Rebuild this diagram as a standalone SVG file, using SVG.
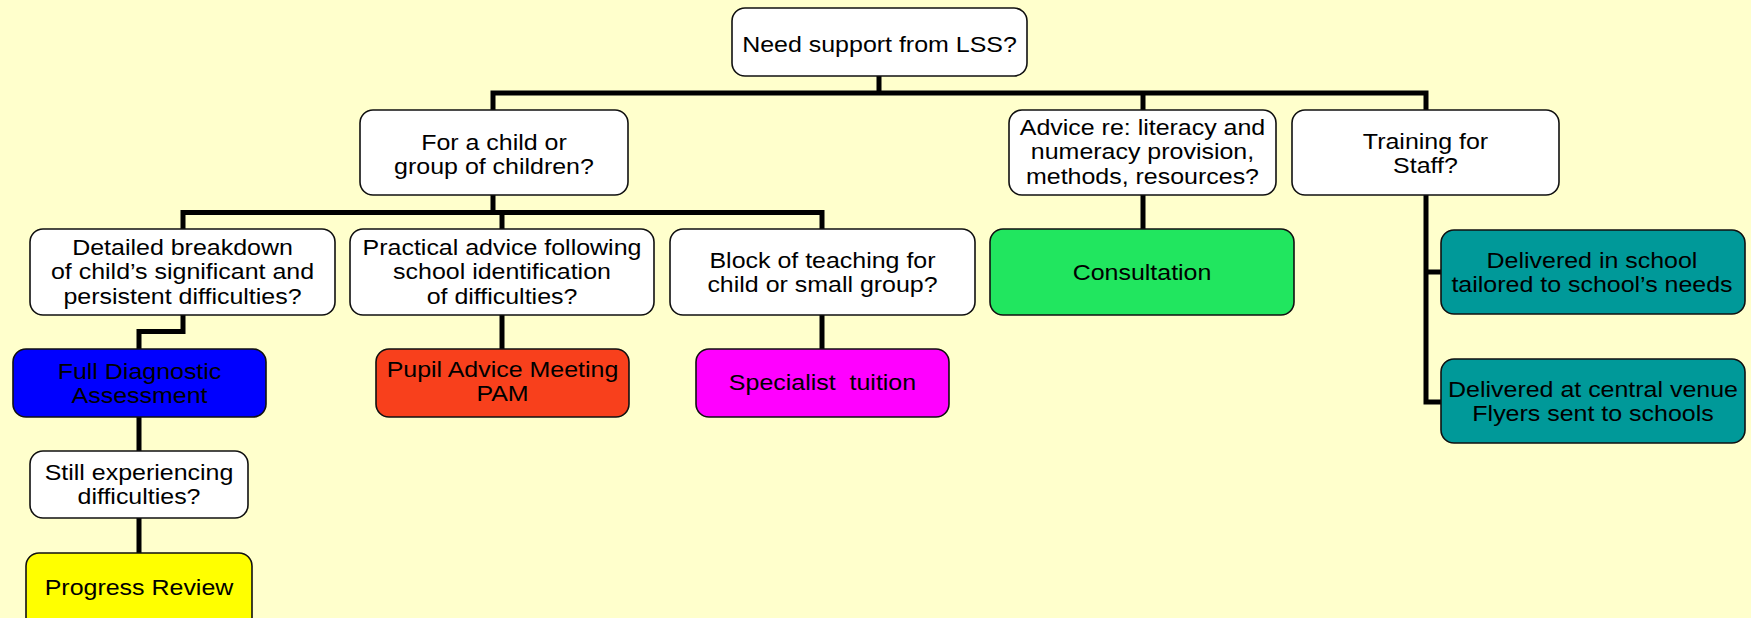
<svg xmlns="http://www.w3.org/2000/svg" width="1751" height="618" viewBox="0 0 1751 618">
<style>
.box{stroke:#111;stroke-width:1.6}
.q{fill:#fff}
.t{font-family:"Liberation Sans",Arial,sans-serif;font-size:22px;fill:#000;text-anchor:middle}
.c{fill:none;stroke:#000;stroke-width:5;stroke-linejoin:miter;stroke-linecap:square}
</style>
<rect x="0" y="0" width="1751" height="618" fill="#FFFFCC"/>
<g id="connectors">
<path class="c" d="M879 77V93M493 93H1426M493 93V108M1143 93V108M1426 93V108"/>
<path class="c" d="M493 194V212.5M183 212.5H822M183 212.5V228M502 212.5V228M822 212.5V228"/>
<path class="c" d="M183 315V331.5H139V348M139 417V450M139 519V552"/>
<path class="c" d="M502 315V348M822 315V348M1143 194V228"/>
<path class="c" d="M1426 194V402H1440M1426 272H1440"/>
</g>
<g id="n_root">
<rect class="box q" x="732" y="8" width="295" height="68" rx="13"/>
<text class="t" transform="translate(879.5,0) scale(1.135,1)"><tspan x="0" y="52">Need support from LSS?</tspan></text>
</g>
<g id="n_child">
<rect class="box q" x="360" y="110" width="268" height="85" rx="13"/>
<text class="t" transform="translate(494,0) scale(1.135,1)"><tspan x="0" y="150">For a child or</tspan><tspan x="0" y="174.5">group of children?</tspan></text>
</g>
<g id="n_advice">
<rect class="box q" x="1009" y="110" width="267" height="85" rx="13"/>
<text class="t" transform="translate(1142.5,0) scale(1.135,1)"><tspan x="0" y="135">Advice re: literacy and</tspan><tspan x="0" y="159.5">numeracy provision,</tspan><tspan x="0" y="184">methods, resources?</tspan></text>
</g>
<g id="n_training">
<rect class="box q" x="1292" y="110" width="267" height="85" rx="13"/>
<text class="t" transform="translate(1425.5,0) scale(1.135,1)"><tspan x="0" y="149">Training for</tspan><tspan x="0" y="173.5">Staff?</tspan></text>
</g>
<g id="n_detailed">
<rect class="box q" x="30" y="229" width="305" height="86" rx="13"/>
<text class="t" transform="translate(182.5,0) scale(1.135,1)"><tspan x="0" y="255">Detailed breakdown</tspan><tspan x="0" y="279.5">of child’s significant and</tspan><tspan x="0" y="304">persistent difficulties?</tspan></text>
</g>
<g id="n_practical">
<rect class="box q" x="350" y="229" width="304" height="86" rx="13"/>
<text class="t" transform="translate(502,0) scale(1.135,1)"><tspan x="0" y="255">Practical advice following</tspan><tspan x="0" y="279.5">school identification</tspan><tspan x="0" y="304">of difficulties?</tspan></text>
</g>
<g id="n_block">
<rect class="box q" x="670" y="229" width="305" height="86" rx="13"/>
<text class="t" transform="translate(822.5,0) scale(1.135,1)"><tspan x="0" y="268">Block of teaching for</tspan><tspan x="0" y="292.5">child or small group?</tspan></text>
</g>
<g id="n_consultation">
<rect class="box" fill="#21E65F" x="990" y="229" width="304" height="86" rx="13"/>
<text class="t" transform="translate(1142,0) scale(1.135,1)"><tspan x="0" y="280">Consultation</tspan></text>
</g>
<g id="n_inschool">
<rect class="box" fill="#009999" x="1441" y="230" width="304" height="84" rx="13"/>
<text class="t" transform="translate(1592,0) scale(1.135,1)"><tspan x="0" y="268">Delivered in school</tspan><tspan x="0" y="292.5">tailored to school’s needs</tspan></text>
</g>
<g id="n_central">
<rect class="box" fill="#009999" x="1441" y="359" width="304" height="84" rx="13"/>
<text class="t" transform="translate(1593,0) scale(1.135,1)"><tspan x="0" y="397">Delivered at central venue</tspan><tspan x="0" y="421.5">Flyers sent to schools</tspan></text>
</g>
<g id="n_fda">
<rect class="box" fill="#0000FF" x="13" y="349" width="253" height="68" rx="13"/>
<text class="t" transform="translate(139.5,0) scale(1.135,1)"><tspan x="0" y="379">Full Diagnostic</tspan><tspan x="0" y="403.5">Assessment</tspan></text>
</g>
<g id="n_pam">
<rect class="box" fill="#F8401C" x="376" y="349" width="253" height="68" rx="13"/>
<text class="t" transform="translate(502.5,0) scale(1.135,1)"><tspan x="0" y="377">Pupil Advice Meeting</tspan><tspan x="0" y="401.5">PAM</tspan></text>
</g>
<g id="n_specialist">
<rect class="box" fill="#FF00FF" x="696" y="349" width="253" height="68" rx="13"/>
<text class="t" transform="translate(822.5,0) scale(1.135,1)"><tspan x="0" y="390">Specialist&#160; tuition</tspan></text>
</g>
<g id="n_still">
<rect class="box q" x="30" y="451" width="218" height="67" rx="13"/>
<text class="t" transform="translate(139,0) scale(1.135,1)"><tspan x="0" y="480">Still experiencing</tspan><tspan x="0" y="504.5">difficulties?</tspan></text>
</g>
<g id="n_progress">
<rect class="box" fill="#FFFF00" x="26" y="553" width="226" height="80" rx="13"/>
<text class="t" transform="translate(139,0) scale(1.135,1)"><tspan x="0" y="595">Progress Review</tspan></text>
</g>
</svg>
